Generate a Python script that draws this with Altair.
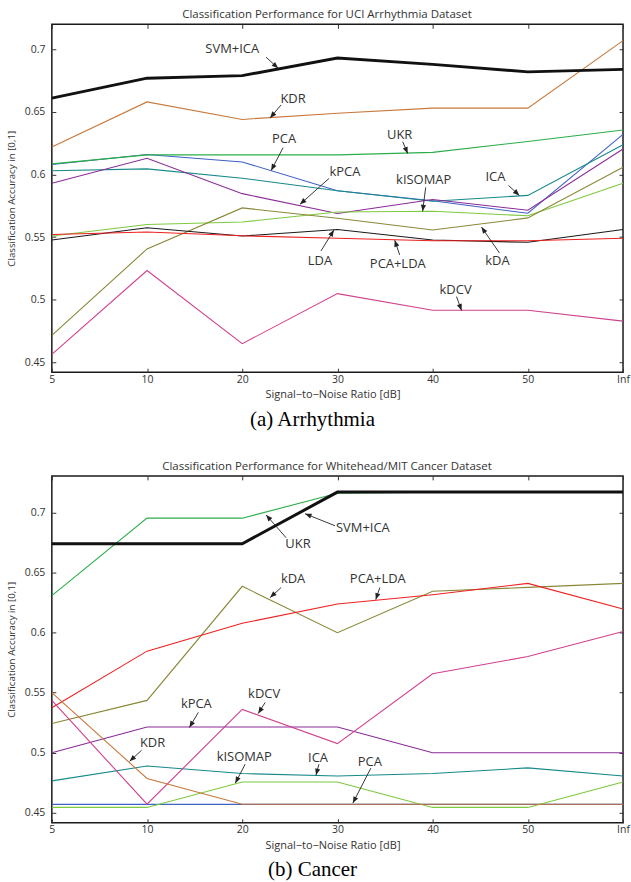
import math
import altair as alt
import pandas as pd

# ---------------- data ----------------
SNR_LABELS = ["5", "10", "20", "30", "40", "50", "Inf"]
SNR_INDEX = [0, 1, 2, 3, 4, 5, 6]
Y_TICKS = [0.45, 0.5, 0.55, 0.6, 0.65, 0.7]

THIN_NAMES = ["PCA", "ICA", "kPCA", "kISOMAP", "kDA", "LDA", "PCA+LDA", "kDCV", "UKR", "KDR"]
THIN_COLORS = ["#3f62c4", "#17898b", "#8b2b98", "#7dca3e", "#8a8838", "#1a1a1a", "#ee2020", "#d0418f", "#2bae4a", "#c8783a"]
THICK_NAME = "SVM+ICA"

# (a) Arrhythmia
A_SVM_ICA = [0.661, 0.677, 0.679, 0.693, 0.688, 0.682, 0.684]
A_KDR = [0.622, 0.658, 0.644, 0.649, 0.653, 0.653, 0.707]
A_UKR = [0.6085, 0.6157, 0.6157, 0.6157, 0.6177, 0.6264, 0.6355]
A_PCA = [0.608, 0.616, 0.610, 0.587, 0.579, 0.569, 0.632]
A_ICA = [0.603, 0.6045, 0.597, 0.587, 0.5786, 0.5833, 0.6238]
A_KPCA = [0.593, 0.613, 0.5847, 0.5688, 0.580, 0.5714, 0.6204]
A_KISOMAP = [0.5508, 0.560, 0.562, 0.570, 0.5706, 0.567, 0.593]
A_KDA = [0.4714, 0.5405, 0.5733, 0.565, 0.5556, 0.5653, 0.6058]
A_LDA = [0.5476, 0.5574, 0.5508, 0.556, 0.5476, 0.5458, 0.556]
A_PCALDA = [0.552, 0.554, 0.551, 0.549, 0.547, 0.547, 0.549]
A_KDCV = [0.4563, 0.5233, 0.4648, 0.5048, 0.4915, 0.4915, 0.4828]

# (b) Cancer
B_SVM_ICA = [0.674, 0.674, 0.674, 0.717, 0.717, 0.717, 0.717]
B_UKR = [0.6308, 0.6953, 0.6953, 0.716, 0.717, 0.717, 0.717]
B_KDA = [0.5243, 0.5436, 0.6386, 0.5999, 0.6344, 0.6377, 0.641]
B_PCALDA = [0.5375, 0.5846, 0.6078, 0.6239, 0.6316, 0.641, 0.6197]
B_KPCA = [0.500, 0.5215, 0.5215, 0.5215, 0.500, 0.500, 0.500]
B_KDCV = [0.5436, 0.4572, 0.5361, 0.5076, 0.5658, 0.5801, 0.601]
B_KDR = [0.550, 0.4786, 0.4572, 0.4572, 0.4572, 0.4572, 0.4572]
B_ICA = [0.4766, 0.489, 0.4827, 0.4807, 0.4827, 0.4874, 0.4807]
B_KISOMAP = [0.4545, 0.4545, 0.4757, 0.4757, 0.4545, 0.4545, 0.4757]
B_PCA = [0.457, 0.457, 0.457, 0.457, 0.457, 0.457, 0.457]

# annotations (a)
A_NOTE_TEXT = ["SVM+ICA", "KDR", "PCA", "UKR", "kPCA", "kISOMAP", "ICA", "LDA", "PCA+LDA", "kDA", "kDCV"]
A_NOTE_X = [1.895, 2.534, 2.44, 3.654, 3.079, 3.906, 4.66, 2.817, 3.634, 4.681, 4.241]
A_NOTE_Y = [0.700, 0.6603, 0.6286, 0.6317, 0.6016, 0.5952, 0.5976, 0.531, 0.5286, 0.531, 0.5079]
A_TAIL_X = [2.251, 2.408, 2.429, 3.686, 2.911, 3.927, 4.796, 2.827, 3.654, 4.702, 4.251]
A_TAIL_Y = [0.6937, 0.6556, 0.6214, 0.6262, 0.5968, 0.5897, 0.5913, 0.5389, 0.5357, 0.5373, 0.5024]
A_HEAD_X = [2.377, 2.293, 2.304, 3.738, 2.607, 3.895, 4.911, 2.963, 3.602, 4.513, 4.304]
A_HEAD_Y = [0.6849, 0.6452, 0.6032, 0.6167, 0.5762, 0.5706, 0.5833, 0.5556, 0.5475, 0.558, 0.4913]

# annotations (b)
B_NOTE_TEXT = ["UKR", "SVM+ICA", "kDA", "PCA+LDA", "kPCA", "kDCV", "KDR", "kISOMAP", "ICA", "PCA"]
B_NOTE_X = [2.586, 3.267, 2.534, 3.424, 1.518, 2.230, 1.058, 2.021, 2.796, 3.340]
B_NOTE_Y = [0.674, 0.6873, 0.645, 0.645, 0.5402, 0.5493, 0.5078, 0.4963, 0.4955, 0.4922]
B_TAIL_X = [2.461, 2.974, 2.408, 3.445, 1.539, 2.241, 0.942, 2.031, 2.806, 3.351]
B_TAIL_Y = [0.679, 0.689, 0.6375, 0.6375, 0.5336, 0.5419, 0.5020, 0.4905, 0.4905, 0.4872]
B_HEAD_X = [2.251, 2.660, 2.293, 3.403, 1.445, 2.168, 0.817, 1.927, 2.775, 3.162]
B_HEAD_Y = [0.698, 0.699, 0.6292, 0.6275, 0.5211, 0.5327, 0.4929, 0.4747, 0.4814, 0.4581]

A_SERIES = {"SVM+ICA": A_SVM_ICA, "KDR": A_KDR, "UKR": A_UKR, "PCA": A_PCA, "ICA": A_ICA,
            "kPCA": A_KPCA, "kISOMAP": A_KISOMAP, "kDA": A_KDA, "LDA": A_LDA,
            "PCA+LDA": A_PCALDA, "kDCV": A_KDCV}
B_SERIES = {"SVM+ICA": B_SVM_ICA, "UKR": B_UKR, "kDA": B_KDA, "PCA+LDA": B_PCALDA,
            "kPCA": B_KPCA, "kDCV": B_KDCV, "PCA": B_PCA, "KDR": B_KDR, "ICA": B_ICA,
            "kISOMAP": B_KISOMAP}

W = 573
FONT = "Open Sans"
label_expr = "[" + ",".join("'%s'" % s for s in SNR_LABELS) + "][datum.value]"


def long_df(series, names):
    rows = []
    for order, name in enumerate(names):
        if name in series:
            for i, v in zip(SNR_INDEX, series[name]):
                rows.append({"idx": i, "val": v, "series": name, "o": order})
    return pd.DataFrame(rows)


def notes_df(text, nx, ny, tx, ty, hx, hy, ydomain, H):
    sx = W / 6.0
    sy = H / (ydomain[1] - ydomain[0])
    rows = []
    for i in range(len(text)):
        dx = (hx[i] - tx[i]) * sx
        dy = -(hy[i] - ty[i]) * sy
        ang = math.degrees(math.atan2(dx, -dy)) % 360
        rows.append({"label": text[i], "nx": nx[i], "ny": ny[i], "tx": tx[i], "ty": ty[i],
                     "hx": hx[i], "hy": hy[i], "ang": ang})
    return pd.DataFrame(rows)


def panel(series, text, nx, ny, tx, ty, hx, hy, ydomain, H, title, caption):
    xs = alt.Scale(domain=[0, 6], nice=False, zero=False)
    ys = alt.Scale(domain=ydomain, nice=False, zero=False)
    bottom_axis = alt.Axis(values=SNR_INDEX, labelExpr=label_expr, tickSize=4, offset=-4,
                           domain=False, grid=False, labelPadding=2, labelFlush=False,
                           title="Signal\u2212to\u2212Noise Ratio [dB]", titlePadding=4,
                           titleX=W / 2 - 5)
    left_axis = alt.Axis(values=Y_TICKS, format=".2~f", tickSize=4, offset=-4, domain=False,
                         grid=False, labelPadding=7, labelFlush=False,
                         title="Classification Accuracy in [0,1]",
                         titlePadding=8, titleFontSize=9.8)
    top_axis = alt.Axis(values=SNR_INDEX, orient="top", labels=False, tickSize=4, offset=-4,
                        domain=False, grid=False, title=title, titlePadding=4, titleFontSize=11.5,
                        titleX=W / 2 - 11)
    right_axis = alt.Axis(values=Y_TICKS, orient="right", labels=False, tickSize=4, offset=-4,
                          domain=False, grid=False, title=None)

    thin_df = long_df(series, THIN_NAMES)
    thick_df = long_df(series, [THICK_NAME])
    nd = notes_df(text, nx, ny, tx, ty, hx, hy, ydomain, H)

    thin = alt.Chart(thin_df).mark_line(strokeWidth=1.1, clip=True).encode(
        x=alt.X("idx:Q", scale=xs, axis=bottom_axis),
        y=alt.Y("val:Q", scale=ys, axis=left_axis),
        color=alt.Color("series:N", scale=alt.Scale(domain=THIN_NAMES, range=THIN_COLORS), legend=None),
        order=alt.Order("idx:Q"),
    )
    thick = alt.Chart(thick_df).mark_line(strokeWidth=3, color="#111111", clip=True).encode(
        x=alt.X("idx:Q", scale=xs, axis=None),
        y=alt.Y("val:Q", scale=ys, axis=None),
    )
    labels = alt.Chart(nd).mark_text(font=FONT, fontSize=13, color="#333333").encode(
        x=alt.X("nx:Q", scale=xs, axis=top_axis),
        y=alt.Y("ny:Q", scale=ys, axis=right_axis),
        text="label:N",
    )
    arrows = alt.Chart(nd).mark_rule(color="#222222", strokeWidth=0.9).encode(
        x=alt.X("tx:Q", scale=xs, axis=None),
        y=alt.Y("ty:Q", scale=ys, axis=None),
        x2="hx:Q",
        y2="hy:Q",
    )
    heads = alt.Chart(nd).mark_point(shape="M0,0L-0.4,1L0.4,1Z", filled=True, size=169,
                                     color="#222222", opacity=1, strokeWidth=0).encode(
        x=alt.X("hx:Q", scale=xs, axis=None),
        y=alt.Y("hy:Q", scale=ys, axis=None),
        angle=alt.Angle("ang:Q", scale=None),
    )
    return alt.layer(thin, thick, labels, arrows, heads).resolve_axis(
        x="independent", y="independent"
    ).properties(
        width=W, height=H,
        title=alt.TitleParams(text=caption, orient="bottom", font="Liberation Serif", fontSize=21,
                              fontWeight="normal", color="#000000", offset=9, dx=-25),
    )


pa = panel(A_SERIES, A_NOTE_TEXT, A_NOTE_X, A_NOTE_Y, A_TAIL_X, A_TAIL_Y, A_HEAD_X, A_HEAD_Y,
           [0.442, 0.72], 349, "Classification Performance for UCI Arrhythmia Dataset", "(a)  Arrhythmia")
pb = panel(B_SERIES, B_NOTE_TEXT, B_NOTE_X, B_NOTE_Y, B_TAIL_X, B_TAIL_Y, B_HEAD_X, B_HEAD_Y,
           [0.4417, 0.7305], 348, "Classification Performance for Whitehead/MIT Cancer Dataset", "(b)  Cancer")

chart = alt.vconcat(pa, pb, spacing=28).properties(
    padding={"left": 5, "top": 6, "right": 0, "bottom": 0}
).configure(
    background="white",
).configure_view(
    stroke="#1a1a1a", strokeWidth=1.5
).configure_axis(
    labelFont=FONT, labelFontSize=10.5, labelColor="#333333",
    titleFont=FONT, titleFontSize=11, titleFontWeight="normal", titleColor="#333333",
    tickColor="#333333", tickWidth=1,
)

chart.save("out.html", embed_options={"renderer": "svg", "actions": False})
